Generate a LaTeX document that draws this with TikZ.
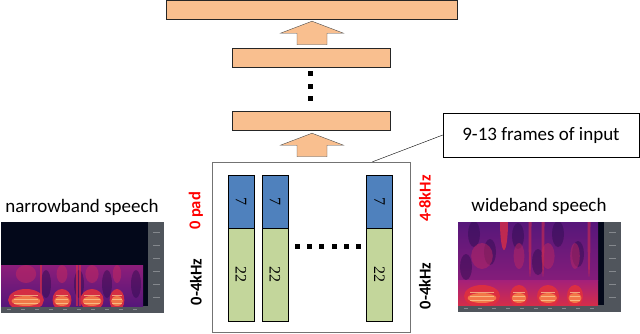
\documentclass[tikz,border=0pt]{standalone}
\usepackage{fontspec}
\setmainfont{Carlito}
\newfontfamily\numfont{Liberation Serif}
\usepackage{tikz}
\usetikzlibrary{calc,positioning}
\definecolor{layerorange}{HTML}{F9BF8F}
\definecolor{bandblue}{HTML}{4F81BD}
\definecolor{bandgreen}{HTML}{C3D69B}
\definecolor{specdark}{HTML}{03081A}
\definecolor{specshadow}{HTML}{2A0B4C}
\definecolor{specpurple}{HTML}{56177A}
\definecolor{specmagenta}{HTML}{A4207A}
\definecolor{specred}{HTML}{E0303E}
\definecolor{specorange}{HTML}{F88A4A}
\definecolor{specyellow}{HTML}{FCD59A}
\definecolor{specaxis}{HTML}{50555C}
\tikzset{
  layer/.style={draw=black!85, fill=layerorange, minimum height=19, inner sep=0},
  blockarrow/.style={draw=black!70, fill=layerorange},
  bandhi/.style={draw=black, fill=bandblue, minimum width=26, minimum height=53, inner sep=0},
  bandlo/.style={draw=black, fill=bandgreen, minimum width=26, minimum height=93, inner sep=0},
  digit/.style={rotate=-90, font=\numfont\fontsize{16}{16}\selectfont},
  freq/.style={rotate=90, font=\bfseries\fontsize{16.5}{17}\selectfont},
  title/.style={font=\fontsize{19}{19}\selectfont},
  tick/.style={draw=white!30!specaxis, line width=0.5}
}

\begin{document}
\begin{tikzpicture}[x=1pt, y=-1pt]
  \useasboundingbox (0,0) rectangle (640,333);
  % layers
  \node[layer, minimum width=291] (layertop) at (311.5,9.5) {};
  \node[layer, minimum width=158] (layermid) at (311,57.5) {};
  \node[layer, minimum width=158] (layerlow) at (311,120.5) {};
  \node[draw=black!55, minimum width=198, minimum height=170] (inbox) at (311,247) {};
  % block arrows
  \coordinate (tip1) at ($(layertop.south)+(0.5,2)$);
  \coordinate (tip2) at ($(layerlow.south)+(1,3)$);
  \foreach \t in {tip1,tip2}
    \draw[blockarrow] (\t) -- ++(31.5,12) -- ++(-16.5,0) -- ++(0,11.5) -- ++(-30,0)
      -- ++(0,-11.5) -- ++(-16.5,0) -- cycle;
  \foreach \y in {71,83.5,96}
    \fill (308,\y) rectangle +(5,5);
  % input frames
  \node[bandhi] (hiA) at (241,201.5) {};
  \node[bandlo, below=0 of hiA] (loA) {};
  \node[bandhi] (hiB) at (275,201.5) {};
  \node[bandlo, below=0 of hiB] (loB) {};
  \node[bandhi] (hiC) at (379.5,201.5) {};
  \node[bandlo, below=0 of hiC] (loC) {};
  \foreach \b in {A,B,C} {
    \node[digit] at (hi\b) {7};
    \node[digit] at (lo\b) {22};
  }
  \foreach \x in {294.5,306.8,319,331.5,343.8,356}
    \fill (\x,244) rectangle +(5,5);
  \node[freq, red] (padL) at (196,211) {0 pad};
  \node[freq] (nbL) at (196,282) {0-4kHz};
  \node[freq, red] (hiR) at (425,198.5) {4-8kHz};
  \node[freq] (loR) at (425,286) {0-4kHz};
  % note
  \node[draw, minimum width=196, minimum height=44, title] (note) at (541,135) {9-13 frames of input};
  \draw (note.west) -- ($(inbox.north west)!0.81!(inbox.north east)$);
  % spectrograms
  \node[title] (nbtitle) at (82,207) {narrowband speech};
  \node[title] (wbtitle) at (539,206) {wideband speech};
  \begin{scope}[shift={(1,222)}]
    \fill[specdark] (0,0) rectangle (163,91);
    \fill[specaxis] (147,0) rectangle (163,91);
    \fill[specaxis] (0,84) rectangle (147,91);
    \foreach \ty in {10,23,36,49,62,75}
      \draw[tick] (152,\ty) -- +(7,0);
    \foreach \tx in {6,20,34,48,62,76,90,104,118,132}
      \draw[tick] (\tx,87.5) -- +(4,0);
    \clip (0,43) rectangle (142,84);
    \shade[top color=specmagenta!70!specpurple, bottom color=specpurple] (0,43) rectangle (142,84);
    \foreach \dx in {45,78,106,135}
      \fill[specshadow, opacity=0.45] (\dx,62) ellipse (5 and 14);
    \foreach \sx/\sw in {25/17, 61/9, 91/11, 116/7} {
      \fill[specmagenta!60!specred, opacity=0.6] (\sx,52) ellipse ({\sw*0.6} and 9);
      \fill[specred, opacity=0.9] (\sx,78) ellipse ({\sw*1.05} and 11);
      \fill[specorange, opacity=0.8] (\sx,79) ellipse ({\sw*0.85} and 5);
      \foreach \hy in {73,77,81}
        \draw[specyellow, line width=0.7, opacity=0.7] ({\sx-\sw*0.7},\hy) -- ({\sx+\sw*0.7},\hy);
    }
    \foreach \sx in {39,75,78}
      \fill[specred!80!specmagenta, opacity=0.7] (\sx,43) rectangle +(1.5,41);
  \end{scope}
  \begin{scope}[shift={(458,222)}]
    \fill[specdark] (0,0) rectangle (163,90);
    \fill[specaxis] (146,0) rectangle (163,90);
    \fill[specaxis] (0,83) rectangle (146,90);
    \foreach \ty in {10,23,36,49,62,75}
      \draw[tick] (151,\ty) -- +(7,0);
    \foreach \tx in {6,20,34,48,62,76,90,104,118,132}
      \draw[tick] (\tx,86.5) -- +(4,0);
    \clip (0,0) rectangle (140,83);
    \shade[top color=specpurple, bottom color=specmagenta!60!specpurple] (0,0) rectangle (140,58);
    \foreach \dx/\dy in {16/12, 32/30, 60/14, 100/12, 120/32, 80/40, 8/45}
      \fill[specshadow, opacity=0.45] (\dx,\dy) ellipse (6 and 13);
    \shade[top color=specmagenta, bottom color=specred!80!specmagenta] (0,58) rectangle (140,83);
    \foreach \sx/\sw in {24/18, 61/9, 90/11, 117/8} {
      \fill[specmagenta!60!specred, opacity=0.5] (\sx,34) ellipse ({\sw*0.6} and 13);
      \fill[specred, opacity=0.9] (\sx,74) ellipse ({\sw} and 11);
      \fill[specorange, opacity=0.8] (\sx,76) ellipse ({\sw*0.8} and 5);
      \foreach \hy in {70,74,78}
        \draw[specyellow, line width=0.7, opacity=0.7] ({\sx-\sw*0.65},\hy) -- ({\sx+\sw*0.65},\hy);
    }
    \fill[specred!85!specmagenta, opacity=0.8] (46,0) ellipse (4 and 28);
    \foreach \sx in {72,85,131}
      \fill[specred!70!specmagenta, opacity=0.6] (\sx,0) ellipse (1.5 and 55);
  \end{scope}
\end{tikzpicture}
\end{document}
